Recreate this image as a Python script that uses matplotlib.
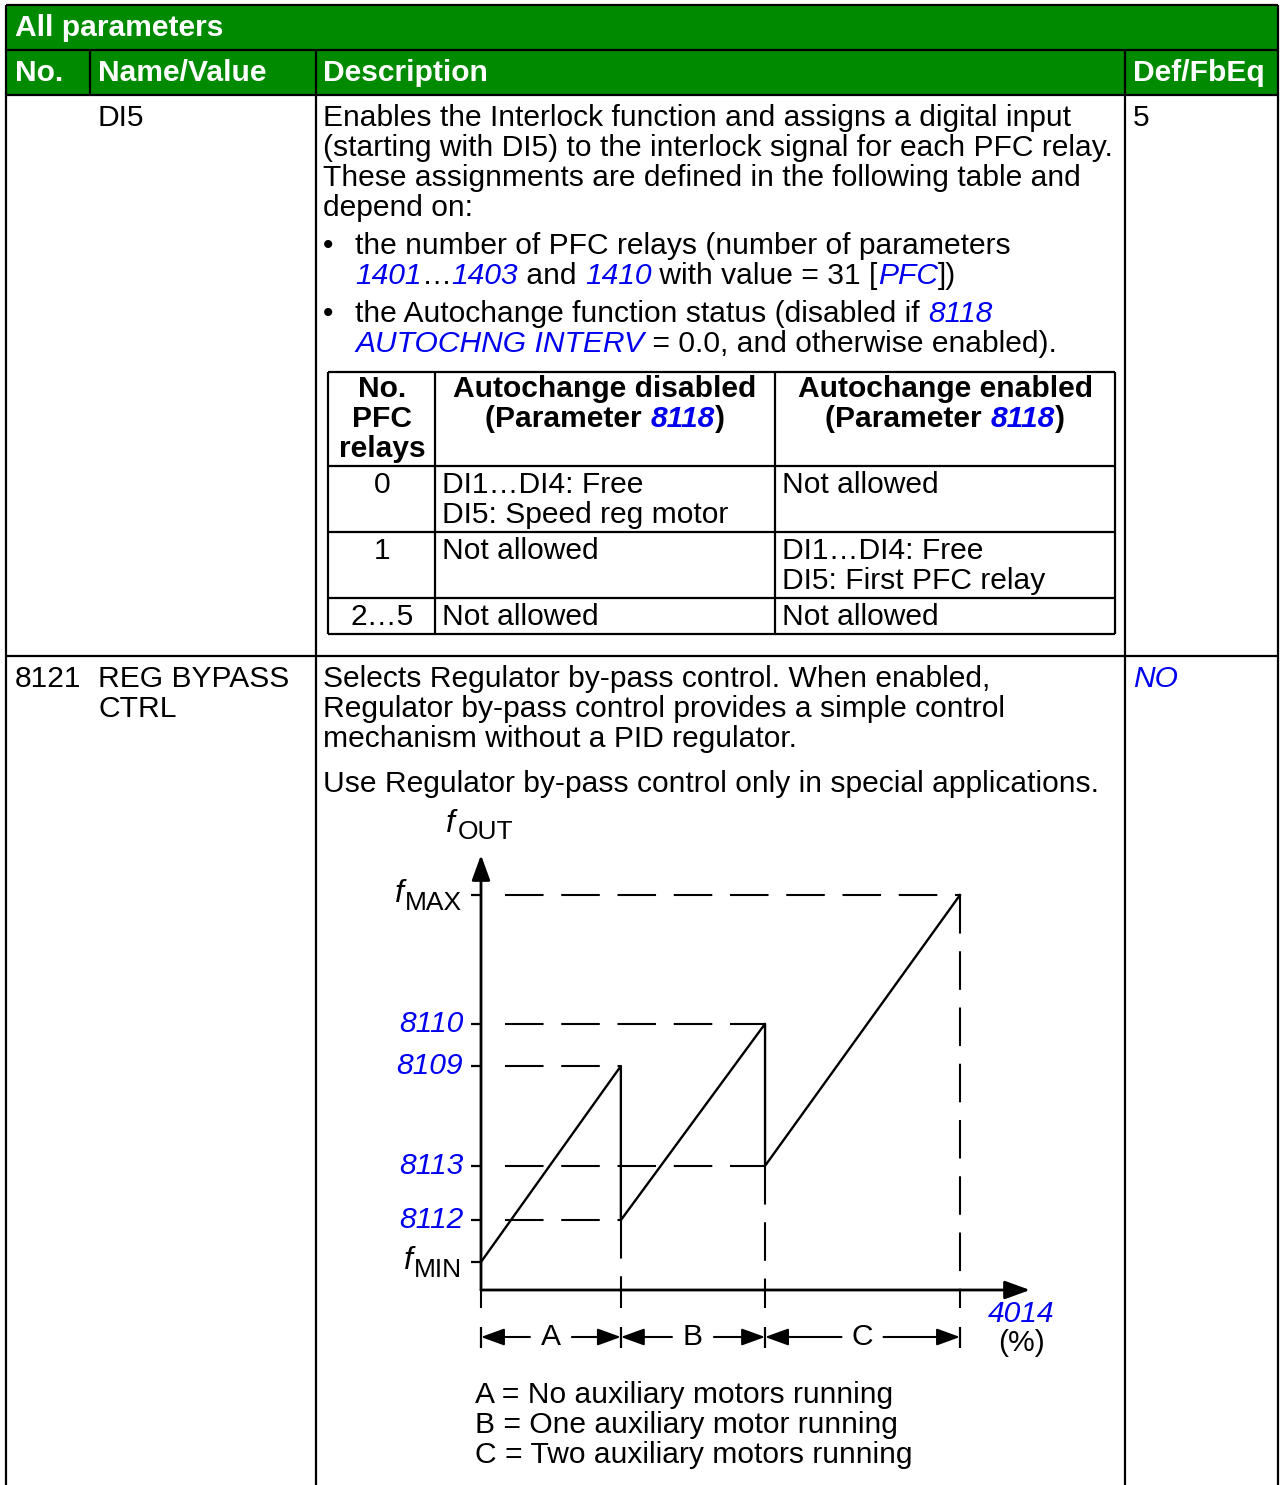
import matplotlib
matplotlib.use('Agg')
import matplotlib.pyplot as plt

W, H = 1283, 1485
GREEN = '#008a00'
BLUE = '#0000ee'
FS = 21.6

plt.rcParams['font.family'] = ['Liberation Sans', 'DejaVu Sans']

# ---------------- data ----------------
table_title = 'All parameters'
col_titles = ['No.', 'Name/Value', 'Description', 'Def/FbEq']

row1_name = 'DI5'
row1_default = '5'
row1_desc = ['Enables the Interlock function and assigns a digital input',
             '(starting with DI5) to the interlock signal for each PFC relay.',
             'These assignments are defined in the following table and',
             'depend on:']
row1_bullets = [
    [[('the number of PFC relays (number of parameters', 'n')],
     [('1401', 'i'), ('\u2026', 'n'), ('1403', 'i'), (' and ', 'n'), ('1410', 'i'),
      (' with value = 31 [', 'n'), ('PFC', 'i'), ('])', 'n')]],
    [[('the Autochange function status (disabled if ', 'n'), ('8118', 'i')],
     [('AUTOCHNG INTERV', 'i'), (' = 0.0, and otherwise enabled).', 'n')]],
]

sub_head = [['No.', 'PFC', 'relays'],
            [[('Autochange disabled', 'b')], [('(Parameter ', 'b'), ('8118', 'bi'), (')', 'b')]],
            [[('Autochange enabled', 'b')], [('(Parameter ', 'b'), ('8118', 'bi'), (')', 'b')]]]
relay_counts = ['0', '1', '2\u20265']
autochange_off = [['DI1\u2026DI4: Free', 'DI5: Speed reg motor'], ['Not allowed'], ['Not allowed']]
autochange_on = [['Not allowed'], ['DI1\u2026DI4: Free', 'DI5: First PFC relay'], ['Not allowed']]

row2_no = '8121'
row2_name = ['REG BYPASS', 'CTRL']
row2_default = 'NO'
row2_desc = ['Selects Regulator by-pass control. When enabled,',
             'Regulator by-pass control provides a simple control',
             'mechanism without a PID regulator.']
row2_note = 'Use Regulator by-pass control only in special applications.'

# chart: output frequency levels (fMIN = 0, fMAX = 100)
level_names = ['fMAX', '8110', '8109', '8113', '8112', 'fMIN']
level_values = [100, 64.9, 53.4, 26.2, 11.4, 0]
level_dash_end = [100, 59.3, 29.2, 59.3, 29.2, None]
stage_edges = [0, 29.2, 59.3, 100]           # parameter 4014 (%)
stage_names = ['A', 'B', 'C']
stage_desc = ['A = No auxiliary motors running',
              'B = One auxiliary motor running',
              'C = Two auxiliary motors running']
curve_x = [0, 29.2, 29.2, 59.3, 59.3, 100]
curve_y = [0, 53.4, 11.4, 64.9, 26.2, 100]

# ---------------- page ----------------
fig = plt.figure(figsize=(W / 100, H / 100), dpi=100)
ax = fig.add_axes([0, 0, 1, 1])
ax.set_xlim(0, W)
ax.set_ylim(H, 0)
ax.axis('off')
R = fig.canvas.get_renderer()

STYLE = {
    'n': dict(color='black'),
    'b': dict(color='black', fontweight='bold'),
    'i': dict(color=BLUE, fontstyle='italic'),
    'bi': dict(color=BLUE, fontstyle='italic', fontweight='bold'),
    'w': dict(color='white', fontweight='bold'),
}


def runs(x, y, parts, size=FS, ha='left'):
    cx = x
    items = []
    for s, st in parts:
        t = ax.text(cx, y, s, fontsize=size, va='baseline', ha='left', **STYLE[st])
        cx += t.get_window_extent(R).width
        items.append(t)
    if ha == 'center':
        shift = (cx - x) / 2
        for t in items:
            t.set_x(t.get_position()[0] - shift)


def line(x0, y0, x1, y1, lw=1.6):
    ax.plot([x0, x1], [y0, y1], color='black', lw=lw, solid_capstyle='butt')


# header
ax.fill_between([6, 1278], 5, 95, color=GREEN, lw=0)
runs(15, 36, [(table_title, 'w')])
for x, s in zip([15, 98, 323, 1133], col_titles):
    runs(x, 81, [(s, 'w')])
line(6, 5, 1278, 5)
line(6, 50, 1278, 50)
line(6, 95, 1278, 95)
line(90, 50, 90, 95)
line(316, 50, 316, H)
line(1125, 50, 1125, H)
line(6, 5, 6, H)
line(1278, 5, 1278, H)
line(6, 656, 1278, 656)

# row 1
runs(98, 126, [(row1_name, 'n')])
runs(1133, 126, [(row1_default, 'n')])
for i, s in enumerate(row1_desc):
    runs(323, 126 + 30 * i, [(s, 'n')])
yb = 254
for bullet in row1_bullets:
    runs(323, yb, [('\u2022', 'n')])
    for j, parts in enumerate(bullet):
        runs(355, yb + 30 * j, parts)
    yb += 68

# sub table
tx = [328, 435, 775, 1115]
ty = [372, 466, 532, 598, 634]
for y in ty:
    line(tx[0], y, tx[-1], y)
for x in tx:
    line(x, ty[0], x, ty[-1])
for k, s in enumerate(sub_head[0]):
    runs(382, 397 + 30 * k, [(s, 'b')], ha='center')
for col, cx in zip(sub_head[1:], [605, 945]):
    for k, parts in enumerate(col):
        runs(cx, 397 + 30 * k, parts, ha='center')
for r, (n, off, on) in enumerate(zip(relay_counts, autochange_off, autochange_on)):
    yb = ty[r + 1] + 27
    runs(382, yb, [(n, 'n')], ha='center')
    for k, s in enumerate(off):
        runs(442, yb + 30 * k, [(s, 'n')])
    for k, s in enumerate(on):
        runs(782, yb + 30 * k, [(s, 'n')])

# row 2
runs(15, 687, [(row2_no, 'n')])
for k, s in enumerate(row2_name):
    runs(98, 687 + 30 * k, [(s, 'n')])
runs(1133, 687, [(row2_default, 'i')])
for k, s in enumerate(row2_desc):
    runs(323, 687 + 30 * k, [(s, 'n')])
runs(323, 792, [(row2_note, 'n')])
for k, s in enumerate(stage_desc):
    runs(475, 1403 + 30 * k, [(s, 'n')])

# ---------------- chart ----------------
X0, X1, Y0, Y1 = 481, 960, 1262, 895      # pixel box of 0..100 / fMIN..fMAX
ax2 = fig.add_axes([X0 / W, 1 - Y0 / H, (X1 - X0) / W, (Y0 - Y1) / H])
ax2.set_xlim(0, 100)
ax2.set_ylim(0, 100)
ax2.axis('off')
px = 100 / (X1 - X0)
py = 100 / (Y0 - Y1)

y_axis_x = -(1290 - Y0) * py
y_top = (Y0 - 855) * py
x_end = (1030 - X0) * px
y_dash_low = -(1308 - Y0) * py
y_dim = -(1337 - Y0) * py
DASH = (0, (18.5, 8.5))
kw = dict(color='black', clip_on=False, solid_capstyle='butt')
head = '-|>,head_length=0.55,head_width=0.2'

# axes with arrows
ax2.annotate('', xy=(0, y_top), xytext=(0, y_axis_x), annotation_clip=False,
             arrowprops=dict(arrowstyle=head, mutation_scale=28, lw=2, color='black',
                             shrinkA=0, shrinkB=0))
ax2.annotate('', xy=(x_end, y_axis_x), xytext=(0, y_axis_x), annotation_clip=False,
             arrowprops=dict(arrowstyle=head, mutation_scale=28, lw=2, color='black',
                             shrinkA=0, shrinkB=0))

# level ticks, dashed guides and labels
for name, v, end in zip(level_names, level_values, level_dash_end):
    ax2.plot([-10 * px, 0], [v, v], lw=1.6, **kw)
    if end is not None:
        ax2.plot([5, end], [v, v], lw=1.5, linestyle=DASH, **kw)
    if name.startswith('f'):
        sub = ax2.annotate(name[1:], xy=(0, v), xytext=(-19, -8), textcoords='offset pixels',
                           ha='right', va='center', fontsize=19, annotation_clip=False)
        w = sub.get_window_extent(R).width
        ax2.annotate('f', xy=(0, v), xytext=(-19 - w - 1, 1), textcoords='offset pixels',
                     ha='right', va='center', fontsize=23, fontstyle='italic',
                     annotation_clip=False)
    else:
        ax2.annotate(name, xy=(0, v), xytext=(-18, 0), textcoords='offset pixels',
                     ha='right', va='center', fontsize=FS, fontstyle='italic', color=BLUE,
                     annotation_clip=False)

# f_OUT label
ax2.annotate('OUT', xy=(0, y_top), xytext=(-23, 23), textcoords='offset pixels',
             ha='left', va='center', fontsize=19, annotation_clip=False)
ax2.annotate('f', xy=(0, y_top), xytext=(-35, 31), textcoords='offset pixels',
             ha='left', va='center', fontsize=23, fontstyle='italic', annotation_clip=False)

# vertical guides at stage boundaries
for xe, ytop in zip(stage_edges, [y_axis_x, 11.4, 26.2, 100]):
    ax2.plot([xe, xe], [ytop, y_dash_low], lw=1.5, linestyle=DASH if xe else '-', **kw)
    ax2.plot([xe, xe], [y_dim + 2.7, y_dim - 2.9], lw=1.6, **kw)

# sawtooth
ax2.plot(curve_x, curve_y, lw=1.7, color='black', clip_on=False)

# stage dimension arrows
for a, b, name in zip(stage_edges[:-1], stage_edges[1:], stage_names):
    mid = (a + b) / 2
    gap = 21 * px
    ax2.text(mid, y_dim, name, ha='center', va='center', fontsize=FS)
    for tip, tail in [(a, mid - gap), (b, mid + gap)]:
        ax2.annotate('', xy=(tip, y_dim), xytext=(tail, y_dim), annotation_clip=False,
                     arrowprops=dict(arrowstyle=head, mutation_scale=26, lw=1.5,
                                     color='black', shrinkA=0, shrinkB=0))

ax2.annotate('4014', xy=(100, y_axis_x), xytext=(28, -24), textcoords='offset pixels',
             ha='left', va='center', fontsize=FS, fontstyle='italic', color=BLUE,
             annotation_clip=False)
ax2.annotate('(%)', xy=(100, y_axis_x), xytext=(62, -53), textcoords='offset pixels',
             ha='center', va='center', fontsize=FS, annotation_clip=False)

fig.savefig('out.png', dpi=100)
